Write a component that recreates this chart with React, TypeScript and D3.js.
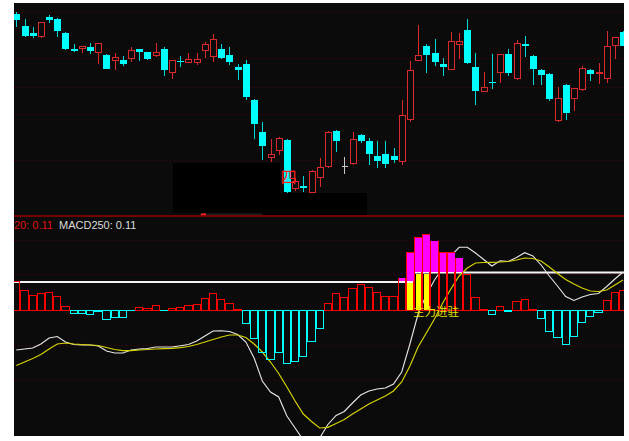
import React from 'react';
import * as d3 from 'd3';

// ---------- price panel data (one entry per trading day) ----------
const opens = [11.99, 11.75, 11.60, 11.53, 11.92, 11.88, 11.61, 11.28, 11.29, 11.32,
  11.21, 11.17, 11.06, 11.06, 11.09, 11.28, 11.23, 11.15, 11.28, 10.82,
  11.05, 11.01, 11.01, 11.25, 11.14, 11.28, 11.17, 10.92, 10.98, 10.27,
  9.63, 9.12, 9.26, 9.46, 8.50, 8.54, 8.41, 8.72, 8.93, 9.64,
  8.94, 8.99, 9.56, 9.44, 9.14, 9.18, 9.14, 9.03, 9.88, 11.05,
  11.35, 11.21, 10.99, 10.87, 11.37, 11.67, 10.92, 10.44, 10.62, 10.81,
  11.19, 10.70, 11.39, 11.15, 10.87, 10.78, 9.85, 10.57, 10.29, 10.47,
  10.87, 10.79, 10.69, 11.35, 11.63];
const highs = [12.02, 11.89, 11.73, 11.82, 11.97, 11.90, 11.62, 11.39, 11.34, 11.41,
  11.40, 11.19, 11.21, 11.15, 11.32, 11.29, 11.23, 11.41, 11.32, 11.07,
  11.14, 11.21, 11.21, 11.43, 11.59, 11.38, 11.32, 10.98, 11.07, 10.28,
  9.82, 9.48, 9.52, 9.48, 8.70, 8.74, 8.86, 9.10, 9.64, 9.66,
  9.13, 9.62, 9.58, 9.50, 9.44, 9.44, 9.30, 10.26, 11.04, 11.77,
  11.38, 11.48, 11.11, 11.63, 11.60, 11.88, 11.20, 10.83, 11.18, 11.19,
  11.28, 11.46, 11.54, 11.16, 10.88, 10.80, 10.53, 10.58, 10.51, 10.95,
  10.88, 11.01, 11.64, 11.52, 11.64];
const lows = [11.73, 11.53, 11.51, 11.51, 11.81, 11.53, 11.26, 11.23, 11.21, 11.19,
  10.99, 10.88, 10.87, 10.95, 11.03, 11.05, 11.07, 11.13, 10.75, 10.69,
  10.93, 11.00, 10.97, 11.11, 11.03, 11.08, 10.97, 10.66, 10.27, 9.48,
  9.06, 9.02, 9.16, 8.38, 8.44, 8.42, 8.40, 8.52, 8.90, 9.22,
  8.79, 8.96, 9.40, 8.96, 8.90, 8.90, 9.00, 8.96, 9.82, 11.04,
  10.81, 10.95, 10.75, 10.86, 11.09, 10.99, 10.16, 10.42, 10.49, 10.61,
  10.75, 10.66, 11.13, 10.56, 10.56, 10.25, 9.82, 9.87, 10.05, 10.44,
  10.65, 10.59, 10.61, 11.09, 11.34];
const closes = [11.87, 11.55, 11.55, 11.81, 11.87, 11.65, 11.28, 11.24, 11.33, 11.25,
  11.39, 10.89, 11.11, 10.99, 11.26, 11.23, 11.08, 11.21, 10.87, 11.06,
  11.03, 11.07, 11.07, 11.38, 11.47, 11.11, 11.03, 10.87, 10.33, 9.78,
  9.35, 9.18, 9.50, 8.42, 8.64, 8.51, 8.84, 8.92, 9.61, 9.45,
  8.94, 9.48, 9.45, 9.19, 9.05, 8.99, 9.06, 9.95, 10.85, 11.15,
  11.16, 11.03, 10.93, 11.43, 11.43, 11.01, 10.44, 10.51, 10.60, 11.18,
  10.81, 11.39, 11.35, 10.89, 10.76, 10.28, 10.30, 10.01, 10.50, 10.89,
  10.79, 10.81, 11.33, 11.51, 11.35];
const priceGrid = [12.01, 11.09, 10.52, 9.97, 9.05];

// ---------- MACD panel data ----------
const macdBars = [0.29, 0.20, 0.15, 0.17, 0.18, 0.14, 0.04, -0.03, -0.033, -0.04,
  -0.01, -0.09, -0.07, -0.07, -0.005, 0.027, 0.017, 0.047, -0.005, 0.017,
  0.027, 0.047, 0.057, 0.117, 0.167, 0.11, 0.063, 0.01, -0.13, -0.287,
  -0.427, -0.493, -0.42, -0.537, -0.513, -0.46, -0.313, -0.18, 0.063, 0.165,
  0.13, 0.213, 0.26, 0.223, 0.18, 0.14, 0.14, 0.32, 0.573, 0.723,
  0.753, 0.687, 0.573, 0.573, 0.517, 0.357, 0.127, 0.01, -0.043, 0.037,
  -0.01, 0.083, 0.103, 0.01, -0.083, -0.21, -0.277, -0.343, -0.267, -0.127,
  -0.06, -0.02, 0.093, 0.18, 0.20];
const difValues = [-0.40, -0.39, -0.38, -0.34, -0.28, -0.265, -0.32, -0.345, -0.35, -0.35,
  -0.36, -0.41, -0.43, -0.43, -0.40, -0.39, -0.385, -0.37, -0.37, -0.37,
  -0.357, -0.345, -0.31, -0.26, -0.21, -0.207, -0.215, -0.245, -0.32, -0.48,
  -0.71, -0.82, -0.87, -1.06, -1.18, -1.30, -1.36, -1.28, -1.145, -1.055,
  -1.015, -0.93, -0.85, -0.81, -0.79, -0.78, -0.74, -0.62, -0.34, -0.04,
  0.15, 0.30, 0.42, 0.54, 0.627, 0.627, 0.57, 0.505, 0.44, 0.493,
  0.485, 0.525, 0.573, 0.54, 0.45, 0.34, 0.24, 0.135, 0.095, 0.13,
  0.155, 0.165, 0.235, 0.31, 0.38];
const deaValues = [-0.555, -0.52, -0.485, -0.445, -0.39, -0.34, -0.33, -0.34, -0.345, -0.35,
  -0.355, -0.375, -0.395, -0.407, -0.407, -0.40, -0.395, -0.39, -0.387, -0.383,
  -0.377, -0.365, -0.345, -0.32, -0.295, -0.27, -0.25, -0.25, -0.275, -0.34,
  -0.42, -0.52, -0.635, -0.77, -0.91, -1.04, -1.115, -1.18, -1.173, -1.135,
  -1.095, -1.04, -0.99, -0.94, -0.90, -0.86, -0.81, -0.72, -0.56, -0.37,
  -0.23, -0.09, 0.07, 0.21, 0.34, 0.42, 0.47, 0.475, 0.477, 0.48,
  0.485, 0.50, 0.52, 0.515, 0.49, 0.43, 0.365, 0.305, 0.26, 0.22,
  0.19, 0.185, 0.20, 0.25, 0.30];
const refSegments = [
  { from: 0, to: 48, value: 0.28 },
  { from: 49, to: 74, value: 0.375 },
];
const signalDays = [48, 49, 50];
const macdGrid = [0.70, 0.36, -0.35, -0.70];
const titleLeft = '20: 0.11';
const titleRight = 'MACD250: 0.11';
const signalText = '主力进驻';

const W = 629;
const H = 441;
const L = 14;
const R = 624;
const T = 3;
const B = 436;
const SEP = 216;

const RED = '#d82a2a';
const CYAN = '#00ffff';
const BAR_RED = '#ff0000';
const GRID = '#5e0000';

export default function App() {
  const n = closes.length;
  const x = d3.scaleBand<number>().domain(d3.range(n)).range([12.2, 627.2]).paddingInner(0).paddingOuter(0);
  const bw = x.bandwidth();
  const cx = (i: number) => (x(i) as number) + bw / 2;
  const yP = d3.scaleLinear().domain([7.96, 12.2]).range([215, 3]);
  const yM = d3.scaleLinear().domain([-1.26, 0.93]).range([436, 217]);
  const refAt = (i: number) => (refSegments.find((s) => i >= s.from && i <= s.to) as any).value as number;

  const lineGen = d3.line<number>().x((_, i) => cx(i)).y((v) => yM(v));
  const refPts: [number, number][] = d3.range(n).map((i) => [x(i) as number, yM(refAt(i))]);
  refPts.push([627.2, yM(refAt(n - 1))]);
  const refLine = d3.line().curve(d3.curveStepAfter)(refPts) || '';

  const z = yM(0);

  return (
    <svg width={W} height={H} style={{ position: 'absolute', left: 0, top: 0, background: '#fff' }}>
      <defs>
        <clipPath id="clipMain"><rect x={L} y={T} width={R - L} height={SEP - T} /></clipPath>
        <clipPath id="clipMacd"><rect x={L} y={SEP + 1} width={R - L} height={B - SEP - 1} /></clipPath>
      </defs>
      <rect x={0} y={0} width={W} height={H} fill="#ffffff" />
      <rect x={L} y={T} width={R - L} height={B - T} fill="#0b0b0b" />

      {/* price panel */}
      <g clipPath="url(#clipMain)">
        {priceGrid.map((p, k) => (
          <line key={k} x1={L} x2={R} y1={Math.round(yP(p)) + 0.5} y2={Math.round(yP(p)) + 0.5}
            stroke={GRID} strokeDasharray="1,3" />
        ))}
        {closes.map((c, i) => {
          const o = opens[i];
          const xc = Math.round(cx(i)) + 0.5;
          const top = yP(Math.max(o, c));
          const bot = yP(Math.min(o, c));
          const hi = yP(highs[i]);
          const lo = yP(lows[i]);
          if (c === o) {
            return (
              <g key={i} stroke="#c8c8c8" shapeRendering="crispEdges">
                <line x1={xc} x2={xc} y1={hi} y2={lo} />
                <line x1={xc - 3} x2={xc + 3} y1={top} y2={top} />
              </g>
            );
          }
          if (c > o) {
            return (
              <g key={i} stroke={RED} shapeRendering="crispEdges">
                <line x1={xc} x2={xc} y1={hi} y2={top} />
                <line x1={xc} x2={xc} y1={bot} y2={lo} />
                <rect x={xc - 3} y={top} width={6} height={Math.max(bot - top, 1)} fill="#0b0b0b" />
              </g>
            );
          }
          return (
            <g key={i} shapeRendering="crispEdges">
              <line x1={xc} x2={xc} y1={hi} y2={lo} stroke="#00d8d8" />
              <rect x={xc - 3.5} y={top} width={7} height={Math.max(bot - top, 1.2)} fill={CYAN} />
            </g>
          );
        })}
        {/* masked area */}
        <rect x={173} y={163} width={107} height={50} fill="#000" />
        <rect x={262} y={193} width={105} height={22} fill="#000" />
        <rect x={200} y={213.5} width={62} height={2} fill="#1c1c1c" />
        <rect x={201} y={213.5} width={5} height={2} fill="#ff2020" />
        <text x={280.5} y={183} fontSize={16} fill="#ff2020" fontFamily="'Noto Sans CJK SC', sans-serif">四</text>
      </g>

      <line x1={L} x2={R} y1={SEP} y2={SEP} stroke="#990000" strokeWidth={1.5} />

      {/* MACD panel */}
      <g clipPath="url(#clipMacd)">
        {macdGrid.map((v, k) => (
          <line key={k} x1={L} x2={R} y1={Math.round(yM(v)) + 0.5} y2={Math.round(yM(v)) + 0.5}
            stroke={GRID} strokeDasharray="1,3" />
        ))}
        <path d={refLine} fill="none" stroke="#f4f4f4" strokeWidth={2} />
        <path d={lineGen(difValues) || ''} fill="none" stroke="#e8e8e8" strokeWidth={1.1} />
        <path d={lineGen(deaValues) || ''} fill="none" stroke="#d6d200" strokeWidth={1.2} />
        {macdBars.map((v, i) => {
          const x0 = (x(i) as number) + 0.5;
          const w = bw - 1;
          const yv = yM(v);
          if (v >= 0) {
            return (
              <rect key={i} x={x0} y={yv} width={w} height={Math.max(z - yv, 0.5)} fill="none"
                stroke={BAR_RED} shapeRendering="crispEdges" />
            );
          }
          return (
            <rect key={i} x={x0} y={z} width={w} height={Math.max(yv - z, 0.5)} fill="none"
              stroke={CYAN} shapeRendering="crispEdges" />
          );
        })}
        {macdBars.map((v, i) => {
          const yr = yM(refAt(i));
          const yv = yM(v);
          if (v <= 0 || yv >= yr) return null;
          return (
            <rect key={'m' + i} x={(x(i) as number) + 1} y={yv} width={bw - 1.5} height={yr - yv - 1}
              fill="#ff00ff" shapeRendering="crispEdges" />
          );
        })}
        {signalDays.map((i) => {
          const yr = yM(refAt(i));
          return (
            <rect key={'s' + i} x={(x(i) as number) + 1.5} y={yr + 1} width={bw - 2.5} height={z - yr - 1.5}
              fill="#ffff00" shapeRendering="crispEdges" />
          );
        })}
        <text x={413} y={315.5} fontSize={11.5} fill="#e6e000" fontFamily="'Noto Sans CJK SC', sans-serif">{signalText}</text>
        <text x={L} y={228.5} fontSize={11} fill="#e01010" fontFamily="'Liberation Sans', Arial, sans-serif">{titleLeft}</text>
        <text x={59} y={228.5} fontSize={11} fill="#dcdcdc" fontFamily="'Liberation Sans', Arial, sans-serif">{titleRight}</text>
      </g>
    </svg>
  );
}
